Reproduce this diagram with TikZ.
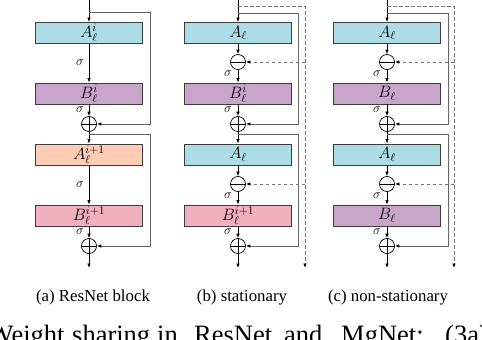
\RequirePackage{fix-cm}
\documentclass[tikz,border=0pt]{standalone}
\usepackage{fontspec}
\setmainfont{Liberation Serif}
\usetikzlibrary{arrows.meta}
\definecolor{cA}{RGB}{172,221,230}
\definecolor{cB}{RGB}{201,166,201}
\definecolor{cAb}{RGB}{255,205,182}
\definecolor{cBb}{RGB}{241,175,192}
\definecolor{skipgray}{RGB}{100,100,100}
\definecolor{dashgray}{RGB}{115,115,115}
\definecolor{boxline}{RGB}{60,60,60}
\begin{document}
\begin{tikzpicture}[x=1pt,y=-1pt,
  blk/.style={draw=boxline, line width=0.9pt, minimum width=107pt, minimum height=21pt, inner sep=0pt, font=\fontsize{16.5}{18}\selectfont},
  op/.style={circle, draw=black, line width=0.7pt, fill=white, minimum size=15pt, inner sep=0pt},
  plusop/.style={op, path picture={\draw[line width=0.7pt] (path picture bounding box.north) -- (path picture bounding box.south) (path picture bounding box.west) -- (path picture bounding box.east);}},
  minusop/.style={op, path picture={\draw[line width=0.7pt] (path picture bounding box.west) -- (path picture bounding box.east);}},
  arr/.style={-{Latex[length=4.5pt,width=3.5pt]}, line width=0.7pt},
  skipl/.style={draw=skipgray, line width=1pt, -{Latex[length=4.5pt,width=3.5pt,color=black]}},
  dshl/.style={draw=dashgray, line width=1pt, dash pattern=on 3.5pt off 2.5pt, -{Latex[length=4.5pt,width=3.5pt,color=black]}},
  sig/.style={font=\fontsize{13}{15}\selectfont, anchor=east, inner sep=0pt},
  subcap/.style={font=\fontsize{16.8}{18}\selectfont, anchor=base, inner sep=0pt},
  capword/.style={font=\fontsize{26.5}{30}\selectfont, anchor=base west, inner sep=0pt}
]
\useasboundingbox (0,0) rectangle (482,340);

% ---------- (a) ResNet block ----------
\coordinate (a-top) at (89,0);
\coordinate (a-s1) at (89,12.5);
\coordinate (a-r1) at (150,12.5);
\coordinate (a-s2) at (89,134.5);
\coordinate (a-r2) at (150,134.5);
\coordinate (a-out) at (89,268);
\node[blk, fill=cA] (a-A1) at (89,33) {$A_\ell^{i}$};
\node[blk, fill=cB] (a-B1) at (89,93.5) {$B_\ell^{i}$};
\node[plusop] (a-P1) at (89,124) {};
\node[blk, fill=cAb] (a-A2) at (89,154.5) {$A_\ell^{i+1}$};
\node[blk, fill=cBb] (a-B2) at (89,215.5) {$B_\ell^{i+1}$};
\node[plusop] (a-P2) at (89,246) {};
\draw[arr] (a-top) -- (a-A1);
\draw[arr] (a-A1) -- (a-B1);
\draw[arr] (a-B1) -- (a-P1);
\draw[arr] (a-P1) -- (a-A2);
\draw[arr] (a-A2) -- (a-B2);
\draw[arr] (a-B2) -- (a-P2);
\draw[arr] (a-P2) -- (a-out);
\draw[skipl] (a-s1) -- (a-r1) |- (a-P1);
\draw[skipl] (a-s2) -- (a-r2) |- (a-P2);
\node[sig] (a-g1) at (84,63) {$\sigma$};
\node[sig] (a-g2) at (84,110) {$\sigma$};
\node[sig] (a-g3) at (84,185) {$\sigma$};
\node[sig] (a-g4) at (84,232) {$\sigma$};
\node[subcap] (a-cap) at (93,301) {(a) ResNet block};

% ---------- (b) stationary ----------
\coordinate (b-top) at (238,0);
\coordinate (b-d0) at (238,6);
\coordinate (b-dr) at (305,6);
\coordinate (b-db) at (305,268);
\coordinate (b-d1) at (305,62);
\coordinate (b-d2) at (305,184);
\coordinate (b-s1) at (238,13);
\coordinate (b-r1) at (298,13);
\coordinate (b-s2) at (238,134.5);
\coordinate (b-r2) at (298,134.5);
\coordinate (b-out) at (238,268);
\node[blk, fill=cA] (b-A1) at (238,33) {$A_\ell$};
\node[minusop] (b-M1) at (238,62) {};
\node[blk, fill=cB] (b-B1) at (238,93.5) {$B_\ell^{i}$};
\node[plusop] (b-P1) at (238,124) {};
\node[blk, fill=cA] (b-A2) at (238,154.5) {$A_\ell$};
\node[minusop] (b-M2) at (238,184) {};
\node[blk, fill=cBb] (b-B2) at (238,215.5) {$B_\ell^{i+1}$};
\node[plusop] (b-P2) at (238,246) {};
\draw[arr] (b-top) -- (b-A1);
\draw[arr] (b-A1) -- (b-M1);
\draw[arr] (b-M1) -- (b-B1);
\draw[arr] (b-B1) -- (b-P1);
\draw[arr] (b-P1) -- (b-A2);
\draw[arr] (b-A2) -- (b-M2);
\draw[arr] (b-M2) -- (b-B2);
\draw[arr] (b-B2) -- (b-P2);
\draw[arr] (b-P2) -- (b-out);
\draw[skipl] (b-s1) -- (b-r1) |- (b-P1);
\draw[skipl] (b-s2) -- (b-r2) |- (b-P2);
\draw[dshl] (b-d0) -- (b-dr) -- (b-db);
\draw[dshl] (b-d1) -- (b-M1);
\draw[dshl] (b-d2) -- (b-M2);
\node[sig] (b-g1) at (232,74) {$\sigma$};
\node[sig] (b-g2) at (232,110) {$\sigma$};
\node[sig] (b-g3) at (232,196) {$\sigma$};
\node[sig] (b-g4) at (232,232) {$\sigma$};
\node[subcap] (b-cap) at (242,301) {(b) stationary};

% ---------- (c) non-stationary ----------
\coordinate (c-top) at (387,0);
\coordinate (c-d0) at (387,6);
\coordinate (c-dr) at (454,6);
\coordinate (c-db) at (454,268);
\coordinate (c-d1) at (454,62);
\coordinate (c-d2) at (454,184);
\coordinate (c-s1) at (387,13);
\coordinate (c-r1) at (448,13);
\coordinate (c-s2) at (387,134.5);
\coordinate (c-r2) at (448,134.5);
\coordinate (c-out) at (387,268);
\node[blk, fill=cA] (c-A1) at (387,33) {$A_\ell$};
\node[minusop] (c-M1) at (387,62) {};
\node[blk, fill=cB] (c-B1) at (387,93.5) {$B_\ell$};
\node[plusop] (c-P1) at (387,124) {};
\node[blk, fill=cA] (c-A2) at (387,154.5) {$A_\ell$};
\node[minusop] (c-M2) at (387,184) {};
\node[blk, fill=cB] (c-B2) at (387,215.5) {$B_\ell$};
\node[plusop] (c-P2) at (387,246) {};
\draw[arr] (c-top) -- (c-A1);
\draw[arr] (c-A1) -- (c-M1);
\draw[arr] (c-M1) -- (c-B1);
\draw[arr] (c-B1) -- (c-P1);
\draw[arr] (c-P1) -- (c-A2);
\draw[arr] (c-A2) -- (c-M2);
\draw[arr] (c-M2) -- (c-B2);
\draw[arr] (c-B2) -- (c-P2);
\draw[arr] (c-P2) -- (c-out);
\draw[skipl] (c-s1) -- (c-r1) |- (c-P1);
\draw[skipl] (c-s2) -- (c-r2) |- (c-P2);
\draw[dshl] (c-d0) -- (c-dr) -- (c-db);
\draw[dshl] (c-d1) -- (c-M1);
\draw[dshl] (c-d2) -- (c-M2);
\node[sig] (c-g1) at (381,74) {$\sigma$};
\node[sig] (c-g2) at (381,110) {$\sigma$};
\node[sig] (c-g3) at (381,196) {$\sigma$};
\node[sig] (c-g4) at (381,232) {$\sigma$};
\node[subcap] (c-cap) at (388,301) {(c) non-stationary};

% ---------- cut-off figure caption ----------
\node[capword] (w1) at (-11.5,343.5) {Weight};
\node[capword] (w2) at (72,343.5) {sharing};
\node[capword] (w3) at (157,343.5) {in};
\node[capword] (w4) at (194,343.5) {ResNet};
\node[capword] (w5) at (284,343.5) {and};
\node[capword] (w6) at (341,343.5) {MgNet:};
\node[capword] (w7) at (445,343.5) {(3a)};
\end{tikzpicture}
\end{document}
